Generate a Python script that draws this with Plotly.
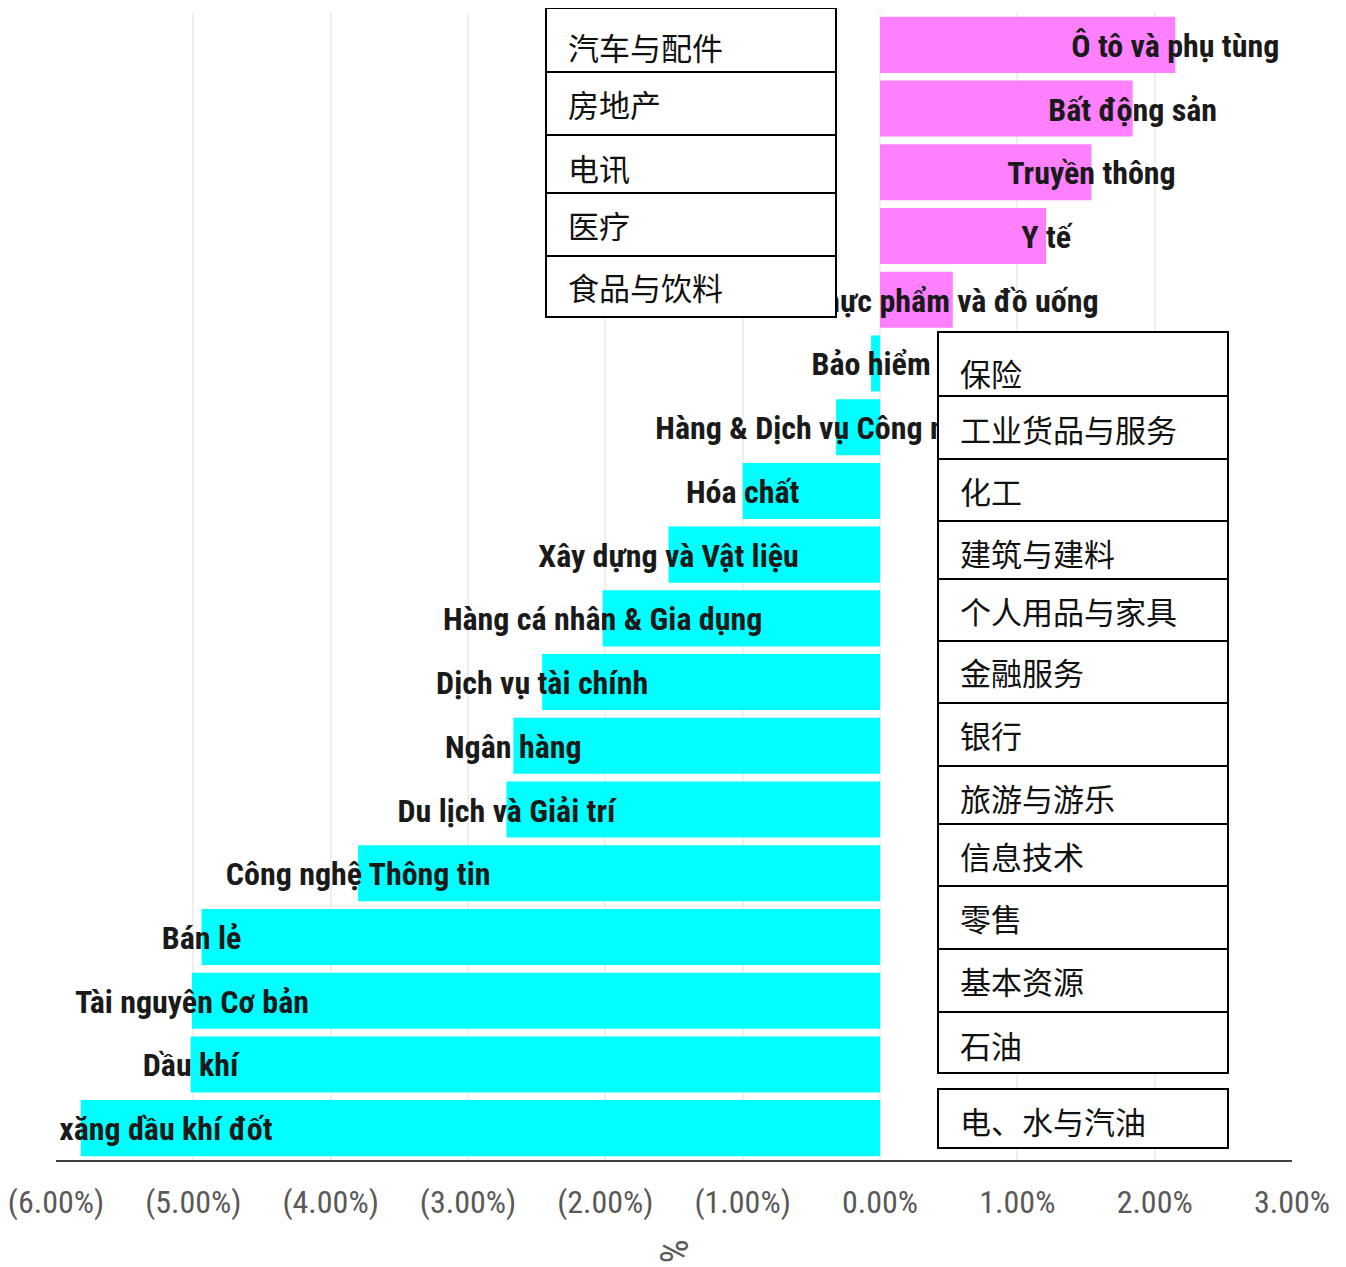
import plotly.graph_objects as go

# ---- data ----
categories = [
    "Ô tô và phụ tùng", "Bất động sản", "Truyền thông", "Y tế",
    "Thực phẩm và đồ uống", "Bảo hiểm", "Hàng & Dịch vụ Công nghiệp",
    "Hóa chất", "Xây dựng và Vật liệu", "Hàng cá nhân & Gia dụng",
    "Dịch vụ tài chính", "Ngân hàng", "Du lịch và Giải trí",
    "Công nghệ Thông tin", "Bán lẻ", "Tài nguyên Cơ bản", "Dầu khí",
    "Điện, nước & xăng dầu khí đốt",
]
values = [2.15, 1.84, 1.54, 1.21, 0.53, -0.065, -0.32, -1.0, -1.54, -2.02,
          -2.46, -2.67, -2.72, -3.80, -4.94, -5.01, -5.02, -5.82]
tick_vals = [-6, -5, -4, -3, -2, -1, 0, 1, 2, 3]
tick_text = ["(6.00%)", "(5.00%)", "(4.00%)", "(3.00%)", "(2.00%)", "(1.00%)",
             "0.00%", "1.00%", "2.00%", "3.00%"]
zh_top = ["汽车与配件", "房地产", "电讯", "医疗", "食品与饮料"]
zh_right = ["保险", "工业货品与服务", "化工", "建筑与建料", "个人用品与家具",
            "金融服务", "银行", "旅游与游乐", "信息技术", "零售", "基本资源", "石油"]
zh_last = "电、水与汽油"

# ---- layout geometry (screen pixels; page body has an 8px margin) ----
OFF = 8
W, H = 1346 - OFF, 1267 - OFF
L, R, T, B = 56, 1292, 13, 1160          # plot area in screen pixels
PW, PH = R - L, B - T
N = len(categories)
LABEL_DROP = 4 * N / PH                  # move bar labels ~4px lower (category units)


def px(x):
    return (x - L) / PW


def py(y):
    return (B - y) / PH


colors = ["#FF80FF" if v > 0 else "#00FFFF" for v in values]
LABEL_FONT = "Roboto Condensed, Roboto, sans-serif"
ZH_FONT = "Noto Sans CJK SC"

fig = go.Figure()
fig.add_trace(go.Bar(
    x=values, y=categories, orientation="h", marker=dict(color=colors, line=dict(width=0)),
    hoverinfo="skip", showlegend=False,
))
fig.add_trace(go.Scatter(
    x=values, y=categories, yaxis="y2", mode="text", text=categories,
    textposition="middle center", cliponaxis=True,
    textfont=dict(family=LABEL_FONT, size=32, color="#1a1a1a", weight="bold"),
    hoverinfo="skip", showlegend=False,
))

shapes = []
annotations = []


def box(x0, x1, rows):
    shapes.append(dict(type="rect", xref="paper", yref="paper", x0=px(x0), x1=px(x1),
                       y0=py(rows[-1]), y1=py(rows[0]), fillcolor="white",
                       line=dict(color="black", width=2), layer="above"))
    for yy in rows[1:-1]:
        shapes.append(dict(type="line", xref="paper", yref="paper", x0=px(x0), x1=px(x1),
                           y0=py(yy), y1=py(yy), line=dict(color="black", width=2),
                           layer="above"))


def zh_labels(texts, x, ys):
    for t, yy in zip(texts, ys):
        annotations.append(dict(text=t, xref="paper", yref="paper", x=px(x), y=py(yy),
                                xanchor="left", yanchor="middle", showarrow=False,
                                font=dict(family=ZH_FONT, size=31, color="#111")))


# top box
box(546, 836, [8, 72, 135, 193, 256, 317])
zh_labels(zh_top, 566, [47, 103, 167, 224, 287])

# right box
box(938, 1228, [332, 396, 459, 521, 579, 641, 703, 766, 824, 886, 949, 1012, 1073])
zh_labels(zh_right, 958, [372, 428, 490, 552, 610, 671, 734, 797, 855, 917, 980, 1044])

# last box
box(938, 1228, [1089, 1148])
zh_labels([zh_last], 958, [1120])

# axis title
annotations.append(dict(text="%", xref="paper", yref="paper", x=px(673), y=py(1251),
                        xanchor="center", yanchor="middle", showarrow=False, textangle=90,
                        font=dict(family=LABEL_FONT, size=38, color="#595959")))

yax_common = dict(categoryorder="array", categoryarray=categories, autorange=False,
                  automargin=False, showticklabels=False, showgrid=False,
                  zeroline=False, showline=False)

fig.update_layout(
    width=W, height=H,
    margin=dict(l=L - OFF, r=W - (R - OFF), t=T - OFF, b=H - (B - OFF), pad=0,
                autoexpand=False),
    paper_bgcolor="white", plot_bgcolor="white",
    bargap=0.12,
    shapes=shapes, annotations=annotations,
    xaxis=dict(range=[-6, 3], tickvals=tick_vals, ticktext=tick_text, automargin=False,
               showgrid=True, gridcolor="#f0f0f0", gridwidth=2, zeroline=False,
               showline=True, linecolor="#404040", linewidth=2,
               ticks="", ticklabelstandoff=13, ticklabeloverflow="allow",
               tickfont=dict(family=LABEL_FONT, size=32, color="#595959")),
    yaxis=dict(range=[N - 0.5, -0.5], **yax_common),
    yaxis2=dict(range=[N - 0.5 - LABEL_DROP, -0.5 - LABEL_DROP], overlaying="y",
                **yax_common),
)

fig.write_html("out.html")
